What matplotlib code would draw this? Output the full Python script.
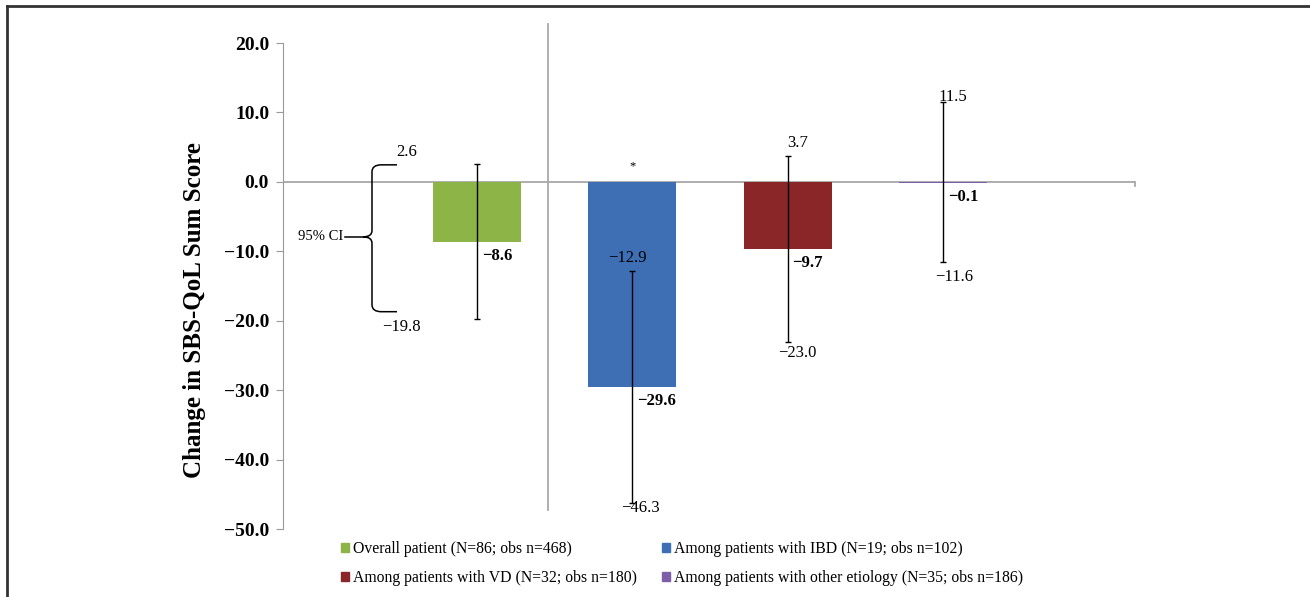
import numpy as np
import matplotlib.pyplot as plt
from matplotlib.path import Path
from matplotlib.patches import PathPatch, Patch

plt.rcParams["font.family"] = ["Liberation Serif", "DejaVu Serif"]

# -------- data --------
groups = ["Overall patient (N=86; obs n=468)",
          "Among patients with IBD (N=19; obs n=102)",
          "Among patients with VD (N=32; obs n=180)",
          "Among patients with other etiology (N=35; obs n=186)"]
means = [-8.6, -29.6, -9.7, -0.1]
ci_low = [-19.8, -46.3, -23.0, -11.6]
ci_high = [2.6, -12.9, 3.7, 11.5]
colors = ["#8DB446", "#3E6FB5", "#8A2627", "#7F5EA8"]
yticks = [20, 10, 0, -10, -20, -30, -40, -50]

def fmt(v):
    return f"{v:.1f}".replace("-", "\u2212")

W, H = 1310, 597
fig = plt.figure(figsize=(W / 100, H / 100), dpi=100)
ax = fig.add_axes([283 / W, 1 - 529 / H, 852 / W, 486 / H])

x = np.arange(len(means))
ax.bar(x, means, width=0.567, color=colors, zorder=2)
yerr = [np.array(means) - np.array(ci_low), np.array(ci_high) - np.array(means)]
ax.errorbar(x, means, yerr=yerr, fmt="none", ecolor="black", elinewidth=1.0,
            capsize=2.5, capthick=1.0, zorder=3)

ax.set_xlim(-1.249, 4.237)
ax.set_ylim(-50, 20)
ax.set_xticks([])
ax.set_yticks(yticks)
ax.set_yticklabels([fmt(v) for v in yticks], fontsize=14, fontweight="bold")
for s in ["top", "right", "bottom"]:
    ax.spines[s].set_visible(False)
ax.spines["left"].set_color("#9a9a9a")
ax.tick_params(axis="y", length=5, color="#9a9a9a", pad=5)
ax.axhline(0, color="#a0a0a0", lw=1.2, zorder=1)
ax.plot([4.237, 4.237], [0, -0.6], color="#a0a0a0", lw=1.2, clip_on=False)

# separator between overall and subgroups
ax.plot([0.46, 0.46], [-47.3, 22.8], color="#a8a8a8", lw=1.3, clip_on=False, zorder=1)

# mean labels (bold)
for xi, m in zip(x, means):
    ax.annotate(fmt(m), (xi, m), xytext=(5, -14), textcoords="offset pixels",
                ha="left", va="center", fontsize=12, fontweight="bold")

# CI labels for subgroups
offs_hi = [None, (-5, 13), (10, 13), (10, 5)]
offs_lo = [None, (8, -5), (10, -11), (11, -15)]
for i in range(1, 4):
    ax.annotate(fmt(ci_high[i]), (x[i], ci_high[i]), xytext=offs_hi[i],
                textcoords="offset pixels", ha="center", va="center", fontsize=12)
    ax.annotate(fmt(ci_low[i]), (x[i], ci_low[i]), xytext=offs_lo[i],
                textcoords="offset pixels", ha="center", va="center", fontsize=12)

# significance mark
ax.annotate("*", (x[1], 0), xytext=(0, 16), textcoords="offset pixels",
            ha="center", va="center", fontsize=9)

# 95% CI brace explaining the interval of the overall group
top, bot = ci_high[0] - 0.15, ci_low[0] + 1.1
mid = (top + bot) / 2 + 0.2
bx, tip, cusp = -0.676, -0.515, -0.734
verts = [(tip, top), (bx + 0.06, top), (bx, top), (bx, top - 1.0),
         (bx, mid + 0.9), (bx, mid), (cusp, mid),
         (bx, mid), (bx, mid - 0.9),
         (bx, bot + 1.0), (bx, bot), (bx + 0.06, bot), (tip, bot)]
codes = [Path.MOVETO, Path.LINETO, Path.CURVE3, Path.CURVE3,
         Path.LINETO, Path.CURVE3, Path.CURVE3,
         Path.CURVE3, Path.CURVE3,
         Path.LINETO, Path.CURVE3, Path.CURVE3, Path.LINETO]
ax.add_patch(PathPatch(Path(verts, codes), fill=False, lw=1.1, color="black", clip_on=False))
ax.plot([-0.85, cusp], [mid, mid], color="black", lw=1.1, clip_on=False)
ax.text(-0.86, mid, "95% CI", ha="right", va="center", fontsize=10.5)
ax.annotate(fmt(ci_high[0]), (tip, top), xytext=(10, 13), textcoords="offset pixels",
            ha="center", va="center", fontsize=12)
ax.annotate(fmt(ci_low[0]), (tip, bot), xytext=(4, -15), textcoords="offset pixels",
            ha="center", va="center", fontsize=12)

fig.text(195 / W, 1 - 310 / H, "Change in SBS-QoL Sum Score", rotation=90,
         ha="center", va="center", fontsize=18, fontweight="bold")

handles = [Patch(color=c) for c in colors]
order = [0, 2, 1, 3]
ax.legend([handles[i] for i in order], [groups[i] for i in order], ncol=2,
          loc="upper left", bbox_to_anchor=(341 / W, 1 - 541 / H),
          bbox_transform=fig.transFigure, frameon=False, fontsize=11.3,
          handlelength=0.5, handleheight=0.5, handletextpad=0.25,
          columnspacing=1.6, labelspacing=0.85, borderpad=0, borderaxespad=0)

# border lines on the top and left of the picture
fig.add_artist(plt.Line2D([7 / W, 1], [1 - 6 / H, 1 - 6 / H], color="#333333", lw=2))
fig.add_artist(plt.Line2D([7 / W, 7 / W], [0, 1 - 6 / H], color="#333333", lw=2))

fig.savefig("out.png", dpi=100)
